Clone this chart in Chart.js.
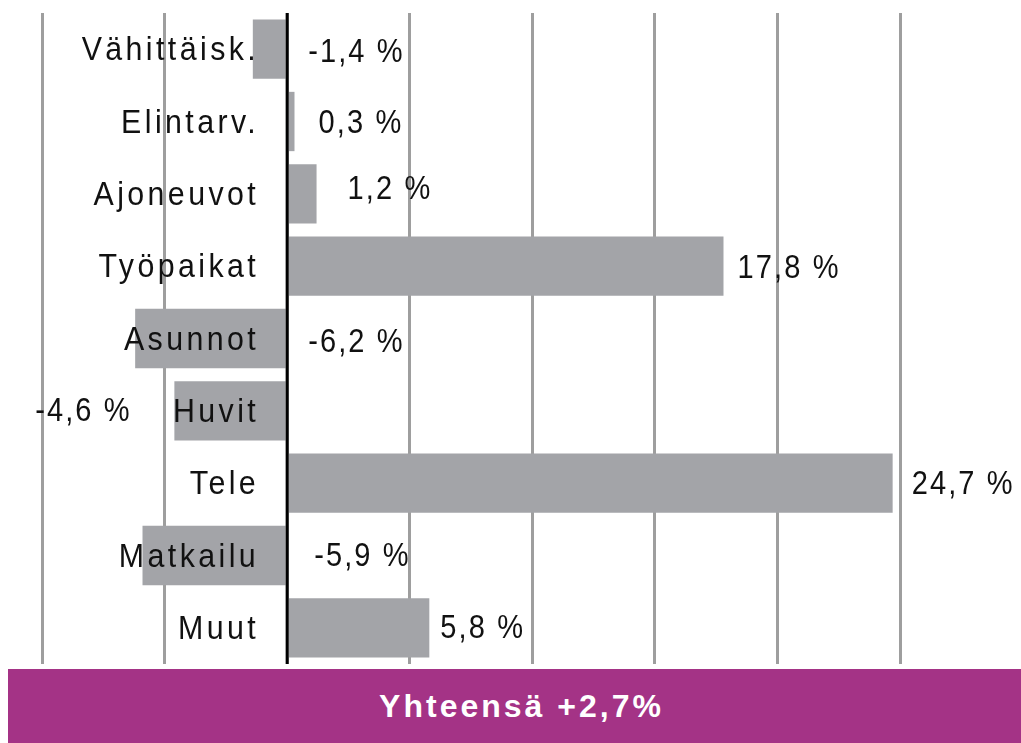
<!DOCTYPE html>
<html><head><meta charset="utf-8">
<script src="https://cdn.jsdelivr.net/npm/chart.js@4/dist/chart.umd.min.js"></script>
<style>
html,body{margin:0;padding:0;background:#fff;}
#wrap{position:relative;width:1021px;height:743px;overflow:hidden;}
#c{position:absolute;left:0;top:0;}
#banner{position:absolute;left:8px;top:669px;width:999px;padding-left:14px;height:74px;background:#A43386;color:#fff;
 font-family:"Liberation Sans",Arial,sans-serif;font-size:32px;font-weight:bold;letter-spacing:3px;
 display:flex;align-items:center;justify-content:center;}
</style></head>
<body><div id="wrap"><canvas id="c" width="1021" height="743"></canvas><div id="banner">Yhteensä +2,7%</div></div>
<script>
const categories = ["Vähittäisk.","Elintarv.","Ajoneuvot","Työpaikat","Asunnot","Huvit","Tele","Matkailu","Muut"];
const values = [-1.4, 0.3, 1.2, 17.8, -6.2, -4.6, 24.7, -5.9, 5.8];
const valueLabels = ["-1,4 %","0,3 %","1,2 %","17,8 %","-6,2 %","-4,6 %","24,7 %","-5,9 %","5,8 %"];
const xTicks = [-10,-5,0,5,10,15,20,25];
// label placement: offset (px) from bar end (positive) or zero line (negative)
const labelDx = [21, 24, 31, 14, 21, -252, 19, 27, 11];
const labelDy = [4, 2, -4, 3, 4, 1, 2, 1, 1];

const FONT = '"Liberation Sans", Arial, sans-serif';

function drawText(ctx, t, x, y, sx, spacing, align){
  ctx.save();
  ctx.translate(x, y);
  ctx.scale(sx, 1);
  ctx.letterSpacing = spacing + 'px';
  ctx.textAlign = align;
  ctx.fillText(t, 0, 0);
  ctx.restore();
}

const overlay = {
  id:'overlay',
  afterDatasetsDraw(chart){
    const ctx = chart.ctx, xs = chart.scales.x, ys = chart.scales.y, ca = chart.chartArea;
    const x0 = xs.getPixelForValue(0);
    ctx.save();
    ctx.strokeStyle = '#000'; ctx.lineWidth = 3;
    ctx.beginPath(); ctx.moveTo(x0, ca.top); ctx.lineTo(x0, ca.bottom); ctx.stroke();
    ctx.fillStyle = '#111';
    ctx.font = '33px ' + FONT;
    ctx.textBaseline = 'middle';
    categories.forEach((c,i)=>{
      const y = ys.getPixelForValue(i);
      drawText(ctx, c, x0 - 28, y + 2, 0.92, 3.7, 'right');
      const v = values[i];
      const ax = v >= 0 ? xs.getPixelForValue(v) : x0;
      drawText(ctx, valueLabels[i], ax + labelDx[i], y + labelDy[i], 0.88, 2.4, 'left');
    });
    ctx.restore();
  }
};

new Chart(document.getElementById('c'), {
  type:'bar',
  data:{labels:categories, datasets:[{data:values, backgroundColor:'#A3A4A8', borderWidth:0,
    barPercentage:0.82, categoryPercentage:1}]},
  options:{
    indexAxis:'y', responsive:false, animation:false,
    layout:{padding:{left:42, right:121, top:13, bottom:79}},
    plugins:{legend:{display:false}, tooltip:{enabled:false}},
    scales:{
      x:{min:-10, max:25, afterBuildTicks:(s)=>{s.ticks = xTicks.map(v=>({value:v}));},
        ticks:{display:false}, border:{display:false},
        grid:{color:'#9E9E9E', lineWidth:3, drawTicks:false}},
      y:{display:false}
    }
  },
  plugins:[overlay]
});
</script></body></html>
